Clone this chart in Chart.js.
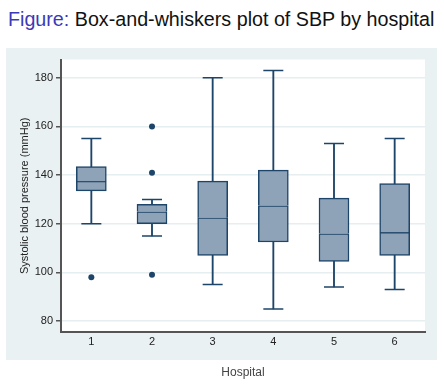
<!DOCTYPE html>
<html>
<head>
<meta charset="utf-8">
<script src="https://cdn.jsdelivr.net/npm/chart.js@4.4.1/dist/chart.umd.min.js"></script>
<style>
  body { margin: 0; background: #fff; width: 444px; height: 386px; position: relative; overflow: hidden; font-family: "Liberation Sans", Arial, sans-serif; }
  .title { position: absolute; left: 8px; top: 8px; font-size: 19.7px; color: #111; white-space: nowrap; }
  .title span { color: #3a3ab8; }
  .panel { position: absolute; left: 6px; top: 48px; width: 431px; height: 312px; background: #eaf1f3; }
  #chart { position: absolute; left: 0; top: 48px; }
</style>
</head>
<body>
<div class="title"><span>Figure:</span> Box-and-whiskers plot of SBP by hospital</div>
<div class="panel"></div>
<canvas id="chart" width="444" height="338"></canvas>
<script>
const hospitals = ["1", "2", "3", "4", "5", "6"];
const whiskerLow = [120, 115, 95, 85, 94, 93];
const q1 = [133.5, 120, 107, 112.5, 104.5, 107];
const median = [137.5, 125, 122.5, 127.5, 116, 116.5];
const q3 = [143.5, 128, 137.5, 142, 130.5, 136.5];
const whiskerHigh = [155, 130, 180, 183, 153, 155];
const outliers = [
  { x: "1", y: 98 },
  { x: "2", y: 160 },
  { x: "2", y: 141 },
  { x: "2", y: 99 },
];
const yTicks = [80, 100, 120, 140, 160, 180];

const navy = "#1d4469";
const boxFill = "#8ea3b7";

const pairs = (a, b) => a.map((v, i) => [v, b[i]]);

const plotBackground = {
  id: "plotBackground",
  beforeDraw(chart) {
    const { ctx, chartArea: a } = chart;
    ctx.save();
    ctx.fillStyle = "#fff";
    ctx.fillRect(a.left, a.top, a.right - a.left, a.bottom - a.top);
    ctx.restore();
  },
};

const boxBar = {
  type: "bar",
  grouped: false,
  backgroundColor: boxFill,
  borderColor: navy,
  borderWidth: 1.5,
  borderSkipped: false,
  barThickness: 30,
};
const whiskerBar = {
  type: "bar",
  grouped: false,
  backgroundColor: navy,
  borderWidth: 0,
  barThickness: 1.2,
};
const cap = {
  type: "line",
  showLine: false,
  pointStyle: "line",
  pointRadius: 10,
  pointBorderWidth: 1.5,
  pointBorderColor: navy,
};

new Chart(document.getElementById("chart"), {
  data: {
    labels: hospitals,
    datasets: [
      // upper half skips its base edge so the median line is drawn once
      { ...boxBar, data: pairs(median, q3), borderSkipped: "start" },
      { ...boxBar, data: pairs(q1, median) },
      {
        type: "line",
        showLine: false,
        data: outliers,
        pointRadius: 3,
        pointBackgroundColor: navy,
        pointBorderColor: navy,
        pointBorderWidth: 0,
      },
      { ...cap, data: whiskerLow },
      { ...cap, data: whiskerHigh },
      { ...whiskerBar, data: pairs(whiskerLow, q1) },
      { ...whiskerBar, data: pairs(q3, whiskerHigh) },
    ],
  },
  options: {
    responsive: false,
    animation: false,
    layout: { padding: { left: 0, right: 19, top: 10, bottom: 0 } },
    plugins: { legend: { display: false }, tooltip: { enabled: false } },
    scales: {
      x: {
        type: "category",
        afterFit: (s) => { s.height = 54; },
        grid: { display: false, drawTicks: false },
        border: { color: "#555", width: 2 },
        ticks: { color: "#222", padding: 3, font: { family: "Liberation Sans", size: 11 } },
        title: {
          display: true,
          text: "Hospital",
          color: "#444",
          padding: { top: 0, bottom: 6 },
          font: { family: "Liberation Sans", size: 12 },
        },
      },
      y: {
        min: 75.5,
        max: 187.5,
        afterFit: (s) => { s.width = 61; },
        afterBuildTicks: (s) => { s.ticks = yTicks.map((v) => ({ value: v })); },
        grid: { color: "#e6eef0", tickColor: "#555", tickLength: 5, lineWidth: 1.5 },
        border: { color: "#555", width: 2 },
        ticks: { color: "#222", padding: 3, font: { family: "Liberation Sans", size: 11 } },
        title: {
          display: true,
          text: "Systolic blood pressure (mmHg)",
          color: "#222",
          padding: { top: 18, bottom: 0 },
          font: { family: "Liberation Sans", size: 11 },
        },
      },
    },
  },
  plugins: [plotBackground],
});
</script>
</body>
</html>
